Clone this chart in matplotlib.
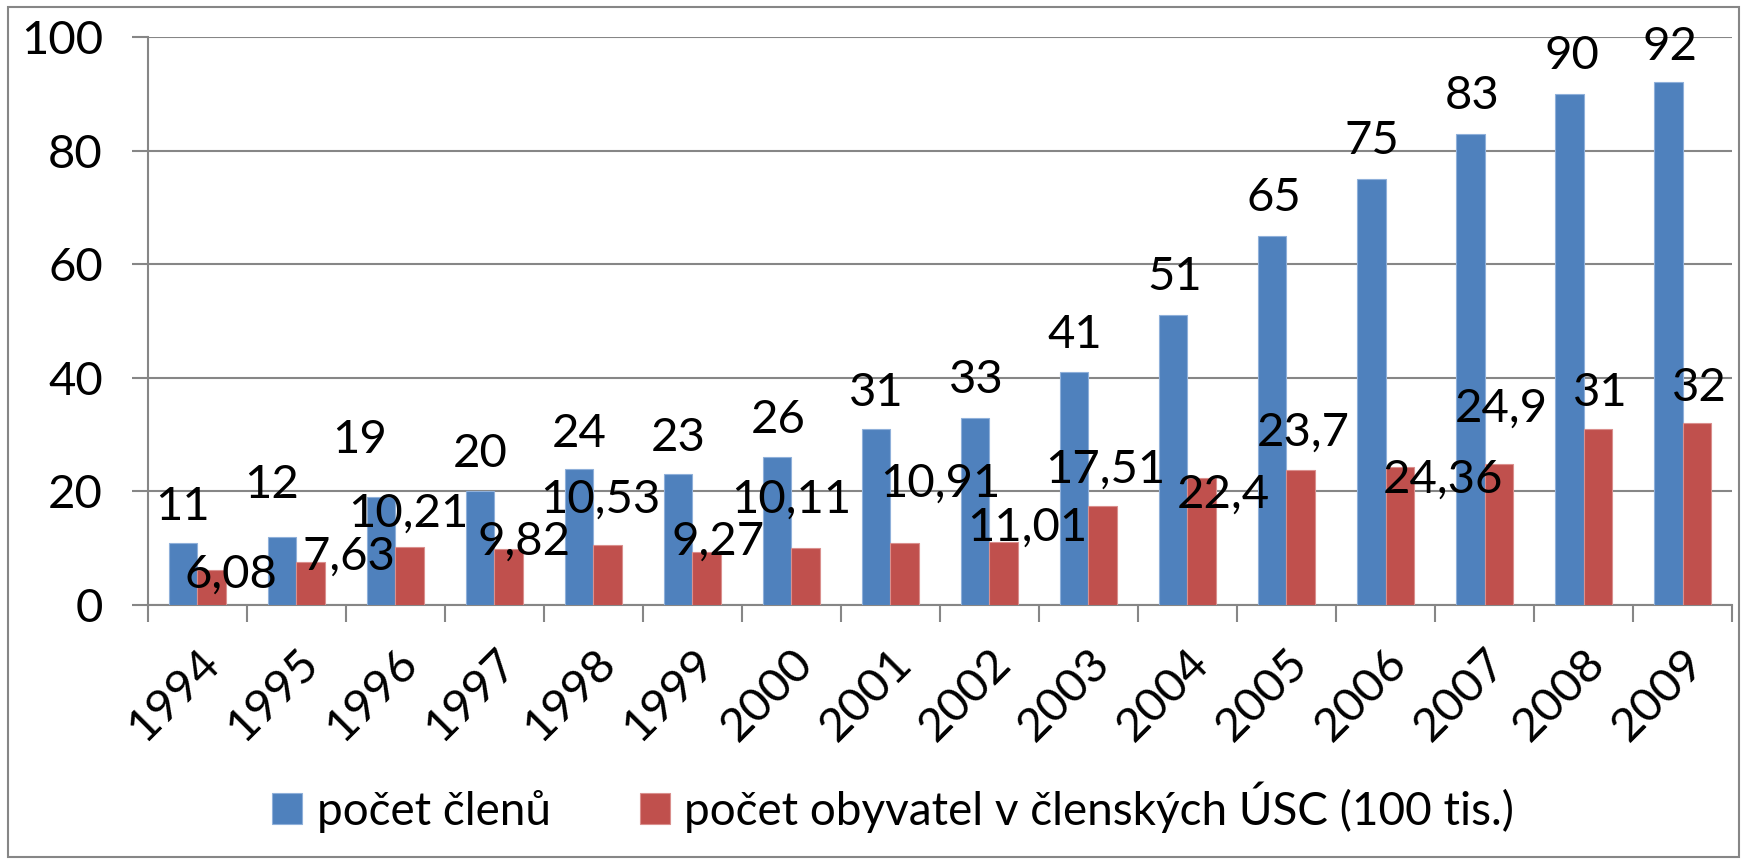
import matplotlib
matplotlib.use("Agg")
import matplotlib.pyplot as plt
from matplotlib.patches import Rectangle
import numpy as np

plt.rcParams['font.family'] = ['Lato', 'DejaVu Sans']

years = ["1994", "1995", "1996", "1997", "1998", "1999", "2000", "2001",
         "2002", "2003", "2004", "2005", "2006", "2007", "2008", "2009"]
clenu = [11, 12, 19, 20, 24, 23, 26, 31, 33, 41, 51, 65, 75, 83, 90, 92]
obyvatel = [6.08, 7.63, 10.21, 9.82, 10.53, 9.27, 10.11, 10.91, 11.01,
            17.51, 22.4, 23.7, 24.36, 24.9, 31, 32]
series_names = ["počet členů", "počet obyvatel v členských ÚSC (100 tis.)"]
yticks = [0, 20, 40, 60, 80, 100]

# data-label placements (label centre x, baseline y in data coords), as moved in the original
blue_lab_x = [-0.15, 0.75, 1.64, 2.86, 3.86, 4.86, 5.87, 6.86, 7.87, 8.86,
              9.87, 10.87, 11.86, 12.88, 13.88, 14.87]
blue_lab_y = [14.9, 18.8, 26.7, 24.3, 27.9, 27.2, 30.2, 35.0, 37.3, 45.2,
              55.4, 69.4, 79.4, 87.3, 94.4, 96.0]
red_lab_x = [0.34, 1.53, 2.13, 3.30, 4.07, 5.26, 6.00, 7.50, 8.38, 9.17,
             10.36, 11.17, 12.58, 13.17, 14.17, 15.17]
red_lab_y = [3.0, 6.15, 13.7, 8.8, 16.2, 8.8, 16.2, 19.0, 11.4, 21.6,
             17.2, 28.1, 19.7, 32.2, 35.1, 36.0]

BLUE = "#4F81BD"
RED = "#C0504D"
GRID = "#868686"

fig = plt.figure(figsize=(17.44, 8.6), dpi=100)
ax = fig.add_axes([0.08486, 0.29651, 0.90826, 0.66047])

x = np.arange(len(years))
w = 0.29
ax.bar(x - w / 2, clenu, width=w, color=BLUE, label=series_names[0], zorder=3,
       edgecolor="#8FB0DA", linewidth=0.8)
ax.bar(x + w / 2, obyvatel, width=w, color=RED, label=series_names[1], zorder=3,
       edgecolor="#DA8F8D", linewidth=0.8)

fs = 34
def fmt(v):
    return ("%g" % v).replace(".", ",")

for i in range(len(years)):
    ax.text(blue_lab_x[i], blue_lab_y[i], fmt(clenu[i]), ha="center", va="baseline",
            fontsize=fs, zorder=5)
    ax.text(red_lab_x[i], red_lab_y[i], fmt(obyvatel[i]), ha="center", va="baseline",
            fontsize=fs, zorder=5)

ax.set_xlim(-0.5, len(years) - 0.5)
ax.set_ylim(0, 100)
ax.set_yticks(yticks)
ax.set_yticklabels([str(t) for t in yticks], fontsize=fs)
ax.yaxis.grid(True, color=GRID, linewidth=1.5, zorder=0)
ax.set_axisbelow(True)

ax.set_xticks(x)
ax.set_xticklabels(years, rotation=45, ha="right", va="top",
                   rotation_mode="anchor", fontsize=fs)
ax.tick_params(axis="x", which="major", length=0, pad=26)
ax.set_xticks(np.arange(-0.5, len(years), 1.0), minor=True)
ax.tick_params(axis="x", which="minor", length=12, width=1.5, color=GRID, direction="out")
ax.tick_params(axis="y", length=11.5, width=1.5, color=GRID, direction="out", pad=21)

for s in ["top", "right"]:
    ax.spines[s].set_visible(False)
for s in ["left", "bottom"]:
    ax.spines[s].set_color(GRID)
    ax.spines[s].set_linewidth(1.5)

leg = fig.legend(loc="center left", bbox_to_anchor=(0.156, 0.0616), ncol=2, frameon=False,
                 fontsize=33, handlelength=0.65, handleheight=0.65, columnspacing=1.95,
                 handletextpad=0.32, borderpad=0, borderaxespad=0)

fig.patches.append(Rectangle((0.0045, 0.004), 0.9925, 0.988, transform=fig.transFigure,
                             fill=False, edgecolor=GRID, linewidth=1.5))

fig.savefig("out.png", dpi=100)
